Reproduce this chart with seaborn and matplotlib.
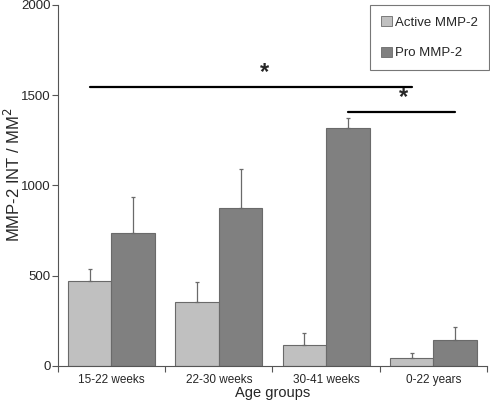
import numpy as np
import pandas as pd
import matplotlib
matplotlib.use("Agg")
import matplotlib.pyplot as plt
import seaborn as sns
from matplotlib.patches import Patch

# Data
groups = ["15-22 weeks", "22-30 weeks", "30-41 weeks", "0-22 years"]
active_mean = [470, 354, 116, 46]
active_err = [67, 111, 65, 24]
pro_mean = [738, 875, 1317, 142]
pro_err = [198, 216, 55, 76]
series = ["Active MMP-2", "Pro MMP-2"]
colors = ["#c0c0c0", "#808080"]

df = pd.DataFrame({
    "group": groups * 2,
    "series": [series[0]] * 4 + [series[1]] * 4,
    "value": active_mean + pro_mean,
    "err": active_err + pro_err,
})

sns.set_style("white")
plt.rcParams["font.family"] = ["Liberation Sans", "DejaVu Sans"]

fig = plt.figure(figsize=(4.9, 4.07), dpi=100)
ax = fig.add_axes([0.118, 0.101, 0.876, 0.887])

sns.barplot(data=df, x="group", y="value", hue="series", order=groups,
            hue_order=series, palette=colors, errorbar=None, width=0.81,
            edgecolor="#6a6a6a", linewidth=0.8, saturation=1, legend=False, ax=ax)

# one-sided error bars on top of each bar
for cont, errs in zip(ax.containers, [active_err, pro_err]):
    xs = [b.get_x() + b.get_width() / 2 for b in cont]
    ys = [b.get_height() for b in cont]
    ax.errorbar(xs, ys, yerr=[np.zeros(len(errs)), errs], fmt="none",
                ecolor="#6a6a6a", elinewidth=0.9, capsize=1.5, capthick=0.9)

ax.set_ylim(0, 2000)
ax.set_xlim(-0.5, 3.5)
ax.set_yticks([0, 500, 1000, 1500, 2000])
ax.set_xticks(np.arange(-0.5, 4.0, 1.0), minor=False)
ax.set_xticklabels([])
ax.set_xticks(range(4), minor=True)
ax.set_xticklabels(groups, minor=True, fontsize=8.5)
ax.tick_params(axis="x", which="minor", length=0, pad=6)
ax.tick_params(axis="x", which="major", length=4, width=0.8, color="#555555", direction="out", bottom=True)
ax.tick_params(axis="y", length=4, width=0.8, color="#555555", direction="out", left=True, labelsize=9.5, pad=1)

for s in ["top", "right"]:
    ax.spines[s].set_visible(False)
for s in ["left", "bottom"]:
    ax.spines[s].set_color("#555555")
    ax.spines[s].set_linewidth(0.8)

ax.set_xlabel("Age groups", fontsize=10.5, labelpad=0)
ax.set_ylabel("MMP-2 INT / MM$^2$", fontsize=12)
ax.yaxis.set_label_coords(-0.082, 0.53)

# significance brackets
ax.plot([-0.2, 2.8], [1545, 1545], color="black", lw=1.6)
ax.text(1.43, 1560, "*", ha="center", va="bottom", fontsize=17, fontweight="bold")
ax.plot([2.2, 3.2], [1407, 1407], color="black", lw=1.6)
ax.text(2.72, 1422, "*", ha="center", va="bottom", fontsize=17, fontweight="bold")

handles = [Patch(facecolor=c, edgecolor="#6a6a6a", linewidth=0.6) for c in colors]
leg = ax.legend(handles, series, loc="upper right", bbox_to_anchor=(1.005, 1.0),
                fontsize=9.5, frameon=True, fancybox=False, handlelength=0.8,
                handleheight=0.8, handletextpad=0.25, labelspacing=1.35,
                borderpad=0.85, borderaxespad=0)
leg.get_frame().set_edgecolor("#555555")
leg.get_frame().set_linewidth(0.8)

fig.savefig("out.png", dpi=100)
